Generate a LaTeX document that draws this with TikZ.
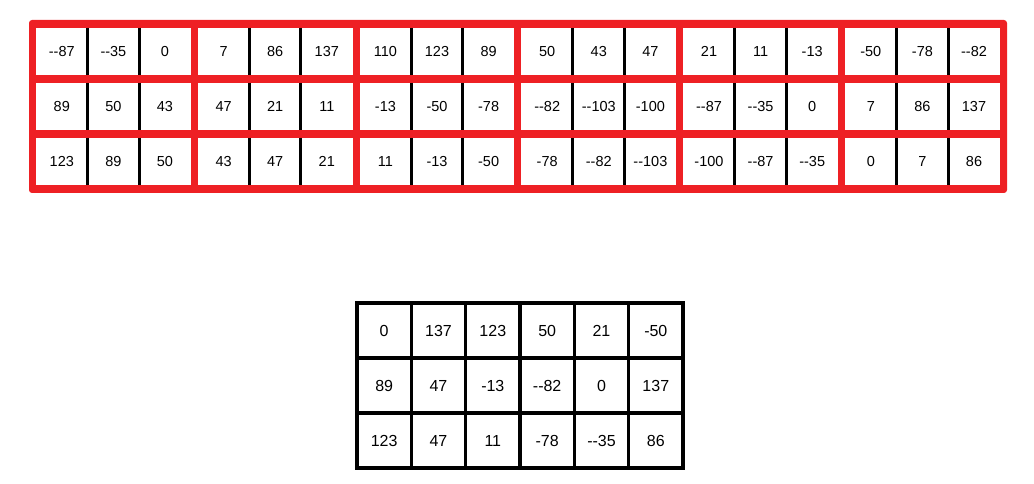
\documentclass[tikz,border=0pt]{standalone}
\usepackage{fontspec}
\newfontfamily\cellfont{Liberation Sans}
\definecolor{gridred}{RGB}{238,32,36}
\begin{document}
\begin{tikzpicture}[x=1pt,y=-1pt,
  topcell/.style={fill=white,inner sep=0pt,minimum width=51.6pt,minimum height=47pt,font=\cellfont\fontsize{14.5}{17}\selectfont},
  sepline/.style={black,line width=3pt},
  lowcell/.style={draw=black,line width=3.5pt,fill=white,inner sep=0pt,minimum width=54.33pt,minimum height=55pt,font=\cellfont\fontsize{16}{19}\selectfont}]
\useasboundingbox (0,0) rectangle (1034,484);

%red frame
\fill[gridred,rounded corners=3pt] (29,20) rectangle (1007,193);

%upper table, six groups of three
\foreach \r/\vals in {0/{--87,--35,0,7,86,137,110,123,89,50,43,47,21,11,-13,-50,-78,--82},
                      1/{89,50,43,47,21,11,-13,-50,-78,--82,--103,-100,--87,--35,0,7,86,137},
                      2/{123,89,50,43,47,21,11,-13,-50,-78,--82,--103,-100,--87,--35,0,7,86}}{
  \foreach \v [count=\j from 0] in \vals {
    \pgfmathtruncatemacro\k{mod(\j,3)}
    \pgfmathsetmacro\cx{36+161.8*floor(\j/3)+51.6*(\k+0.5)}
    \pgfmathsetmacro\cy{28+55*\r+23.5}
    \node[topcell] (t-\r-\j) at (\cx,\cy) {\v};
    \ifnum\k>0
      \draw[sepline] (t-\r-\j.north west) -- (t-\r-\j.south west);
    \fi
  }
}

%lower table
\foreach \r/\vals in {0/{0,137,123,50,21,-50},
                      1/{89,47,-13,--82,0,137},
                      2/{123,47,11,-78,--35,86}}{
  \foreach \v [count=\j from 0] in \vals {
    \node[lowcell] (b-\r-\j) at ({357+54.33*(\j+0.5)},{303+55*(\r+0.5)}) {\v};
  }
}
\end{tikzpicture}
\end{document}
